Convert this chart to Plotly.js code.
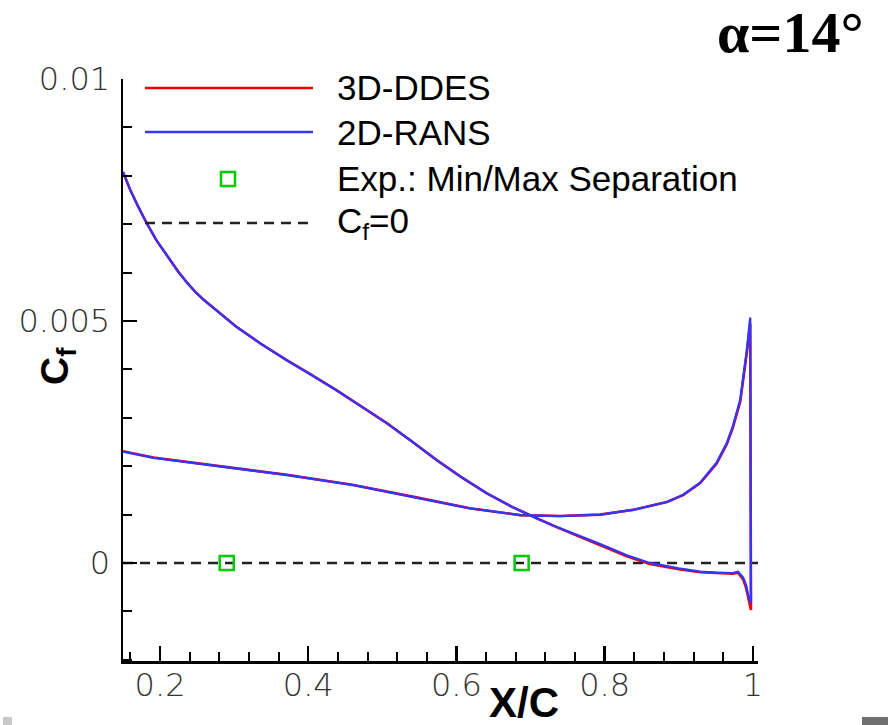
<!DOCTYPE html>
<html>
<head>
<meta charset="utf-8">
<script src="https://cdn.plot.ly/plotly-3.0.1.min.js"></script>
<style>
  html, body { margin: 0; padding: 0; background: #fff; }
  #chart { width: 888px; height: 725px; }
</style>
</head>
<body>
<div id="chart"></div>
<script>
// Skin-friction coefficient along the airfoil chord, alpha = 14 deg.
// Each curve runs along the suction side from x/c = 0.15 to the trailing edge,
// then back along the pressure side to x/c = 0.15.
const xc = [
  0.150, 0.160, 0.170, 0.182, 0.195, 0.2135, 0.225, 0.236, 0.247, 0.258, 0.281, 0.303,
  0.337, 0.371, 0.405, 0.438, 0.472, 0.506, 0.540, 0.573, 0.607, 0.641,
  0.675, 0.708, 0.735, 0.765, 0.794, 0.830, 0.861, 0.900, 0.929, 0.950,
  0.973, 0.980, 0.987, 0.991, 0.994, 0.9975,
  0.9965, 0.992, 0.983, 0.973, 0.965, 0.951, 0.929, 0.906, 0.884, 0.839,
  0.794, 0.740, 0.686, 0.618, 0.551, 0.461, 0.371, 0.281, 0.235, 0.191, 0.150
];

const cfDDES = [
  0.00808, 0.00770, 0.00738, 0.00702, 0.00667, 0.00626, 0.00601, 0.00580, 0.00561, 0.00545, 0.00516, 0.00488,
  0.00452, 0.00419, 0.00388, 0.00357, 0.00323, 0.00289, 0.00251, 0.00213, 0.00177, 0.00144,
  0.00116, 0.00092, 0.00074, 0.00055, 0.00037, 0.00014, -0.00002, -0.00013, -0.00019, -0.00021,
  -0.00022, -0.00020, -0.00034, -0.00052, -0.00075, -0.00097,
  0.00495, 0.00435, 0.00333, 0.00279, 0.00246, 0.00205, 0.00165, 0.00140, 0.00126, 0.00110,
  0.00100, 0.00097, 0.00099, 0.00113, 0.00134, 0.00161, 0.00182, 0.00200, 0.00209, 0.00218, 0.00231
];

const cfRANS = [
  0.00808, 0.00770, 0.00738, 0.00702, 0.00667, 0.00626, 0.00601, 0.00580, 0.00561, 0.00545, 0.00516, 0.00488,
  0.00452, 0.00419, 0.00388, 0.00357, 0.00323, 0.00289, 0.00251, 0.00213, 0.00177, 0.00144,
  0.00116, 0.00092, 0.00075, 0.00057, 0.00039, 0.00016, 0.00000, -0.00011, -0.00018, -0.00020,
  -0.00021, -0.00018, -0.00030, -0.00046, -0.00068, -0.00083,
  0.00507, 0.00441, 0.00337, 0.00282, 0.00248, 0.00207, 0.00166, 0.00141, 0.00126, 0.00110,
  0.00100, 0.00097, 0.00099, 0.00113, 0.00134, 0.00161, 0.00182, 0.00199, 0.00208, 0.00217, 0.00230
];

// Experimental minimum / maximum separation locations
const expX = [0.290, 0.688];
const expY = [0, 0];

// Reference line C_f = 0
const zeroX = [0.15, 1.007];
const zeroY = [0, 0];

const legendLabels = ['3D-DDES', '2D-RANS', 'Exp.: Min/Max Separation', 'C<sub>f</sub>=0'];

const RED = '#ee0000';
const BLUE = '#3434ff';
const GREEN = '#00cc00';
const DASH = '#222222';
const DASHSTYLE = '10px,7px';

// plot area in pixels (used to place the hand-drawn legend and labels)
const PL = 123, PR = 758, PT = 79, PB = 661;
const px = v => (v - PL) / (PR - PL);
const py = v => (PB - v) / (PB - PT);

const traces = [
  { x: zeroX, y: zeroY, mode: 'lines', line: { color: DASH, width: 2.5, dash: DASHSTYLE }, hoverinfo: 'skip' },
  { x: xc, y: cfDDES, mode: 'lines', line: { color: RED, width: 2.6 }, name: legendLabels[0] },
  { x: xc, y: cfRANS, mode: 'lines', line: { color: BLUE, width: 2.3 }, name: legendLabels[1] },
  { x: expX, y: expY, mode: 'markers', name: legendLabels[2],
    marker: { symbol: 'square-open', size: 14, color: GREEN, line: { color: GREEN, width: 2.5 } } }
];

const tickFont = { family: '"DejaVu Sans", sans-serif', size: 32, color: '#333', weight: 200 };

const shapes = [
  { type: 'line', xref: 'paper', yref: 'paper', x0: px(145), x1: px(313), y0: py(88), y1: py(88), line: { color: RED, width: 2.5 } },
  { type: 'line', xref: 'paper', yref: 'paper', x0: px(145), x1: px(313), y0: py(132), y1: py(132), line: { color: BLUE, width: 2.5 } },
  { type: 'rect', xref: 'paper', yref: 'paper', x0: px(221), x1: px(235), y0: py(186), y1: py(172), line: { color: GREEN, width: 2.5 } },
  { type: 'line', xref: 'paper', yref: 'paper', x0: px(145), x1: px(313), y0: py(223), y1: py(223), line: { color: DASH, width: 2.5, dash: DASHSTYLE } },
  { type: 'rect', xref: 'paper', yref: 'paper', x0: px(3), x1: px(12), y0: py(725), y1: py(717), line: { width: 0 }, fillcolor: '#c8c8c8' },
  { type: 'rect', xref: 'paper', yref: 'paper', x0: px(862), x1: px(888), y0: py(725), y1: py(717), line: { width: 0 }, fillcolor: '#707070' }
];

const legendFont = { family: '"Liberation Sans", Arial, sans-serif', size: 35, color: '#000' };
const legendY = [88, 132, 179, 223];
const annotations = legendLabels.map((t, i) => ({
  xref: 'paper', yref: 'paper', x: px(335), y: py(legendY[i]), xanchor: 'left', yanchor: 'middle',
  text: t, showarrow: false, font: legendFont
}));

annotations.push(
  { xref: 'paper', yref: 'paper', x: px(790), y: py(32), xanchor: 'center', yanchor: 'middle',
    text: 'α=14°', showarrow: false,
    font: { family: '"Liberation Serif", "Times New Roman", serif', size: 58, color: '#000', weight: 'bold' } },
  { xref: 'paper', yref: 'paper', x: px(524), y: py(702), xanchor: 'center', yanchor: 'middle',
    text: 'X/C', showarrow: false,
    font: { family: '"Liberation Sans", Arial, sans-serif', size: 42, color: '#000', weight: 'bold' } },
  { xref: 'paper', yref: 'paper', x: px(57), y: py(366), xanchor: 'center', yanchor: 'middle',
    text: 'C<sub>f</sub>', showarrow: false, textangle: -90,
    font: { family: '"Liberation Sans", Arial, sans-serif', size: 39, color: '#000', weight: 'bold' } }
);

const layout = {
  width: 888, height: 725,
  margin: { l: PL, r: 888 - PR, t: PT, b: 725 - PB, pad: 0 },
  paper_bgcolor: '#fff', plot_bgcolor: '#fff',
  showlegend: false,
  xaxis: {
    range: [0.15, 1.007], showgrid: false, zeroline: false,
    showline: true, linecolor: '#000', linewidth: 2.5,
    ticks: 'inside', ticklen: 15, tickwidth: 2.5, tickcolor: '#000',
    dtick: 0.2, tick0: 0, tickfont: tickFont, ticklabelstandoff: -6,
    minor: { dtick: 0.04, ticks: 'inside', ticklen: 9, tickwidth: 2, tickcolor: '#000' }
  },
  yaxis: {
    range: [-0.002025, 0.01], showgrid: false, zeroline: false,
    showline: true, linecolor: '#000', linewidth: 2.5,
    ticks: 'inside', ticklen: 14, tickwidth: 2.5, tickcolor: '#000',
    dtick: 0.005, tick0: 0, tickfont: tickFont, ticklabelstandoff: 4,
    minor: { dtick: 0.001, ticks: 'inside', ticklen: 9, tickwidth: 2, tickcolor: '#000' }
  },
  shapes: shapes,
  annotations: annotations
};

Plotly.newPlot('chart', traces, layout, { displayModeBar: false, staticPlot: true });
</script>
</body>
</html>
